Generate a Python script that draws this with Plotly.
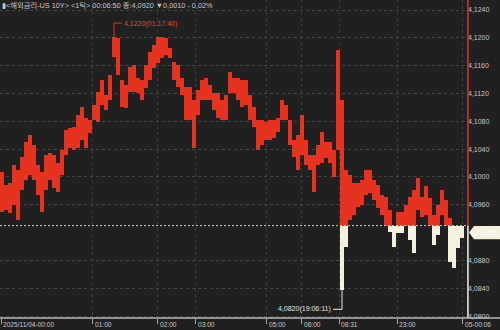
import numpy as np
import plotly.graph_objects as go

# ---- data ----
hi = [4.1007, 4.0988, 4.0991, 4.1017, 4.1010, 4.1029, 4.1050, 4.1060, 4.1046, 4.1017,
      4.1007, 4.1032, 4.1034, 4.1032, 4.1020, 4.1039, 4.1067, 4.1070, 4.1072, 4.1089,
      4.1101, 4.1085, 4.1082, 4.1103, 4.1122, 4.1139, 4.1118, 4.1147, 4.1201, 4.1200,
      4.1139, 4.1132, 4.1158, 4.1161, 4.1142, 4.1139, 4.1161, 4.1180, 4.1190, 4.1201,
      4.1201, 4.1200, 4.1185, 4.1165, 4.1161, 4.1142, 4.1129, 4.1129, 4.1111, 4.1125,
      4.1139, 4.1142, 4.1132, 4.1121, 4.1121, 4.1111, 4.1118, 4.1151, 4.1142, 4.1142,
      4.1139, 4.1139, 4.1118, 4.1101, 4.1082, 4.1082, 4.1079, 4.1082, 4.1082, 4.1085,
      4.1111, 4.1103, 4.1082, 4.1053, 4.1060, 4.1089, 4.1053, 4.1032, 4.1032, 4.1046,
      4.1065, 4.1050, 4.1050, 4.1039, 4.1183, 4.1111, 4.1010, 4.1003, 4.0991, 4.0991,
      4.0996, 4.1010, 4.1010, 4.0996, 4.0988, 4.0974, 4.0971, 4.0952, 4.0930, 4.0950,
      4.0950, 4.0960, 4.0971, 4.0981, 4.0998, 4.0971, 4.0987, 4.0970, 4.0945, 4.0960,
      4.0981, 4.0967, 4.0941, 4.0930, 4.0930, 4.0930]
lo = [4.0950, 4.0952, 4.0948, 4.0960, 4.0938, 4.0981, 4.0996, 4.1003, 4.0996, 4.0974,
      4.0950, 4.0981, 4.0996, 4.0984, 4.0978, 4.1003, 4.1032, 4.1042, 4.1039, 4.1042,
      4.1053, 4.1042, 4.1063, 4.1082, 4.1079, 4.1103, 4.1096, 4.1111, 4.1172, 4.1147,
      4.1101, 4.1099, 4.1122, 4.1122, 4.1121, 4.1111, 4.1128, 4.1139, 4.1157, 4.1164,
      4.1171, 4.1175, 4.1171, 4.1139, 4.1129, 4.1118, 4.1082, 4.1082, 4.1042, 4.1089,
      4.1111, 4.1111, 4.1111, 4.1096, 4.1085, 4.1082, 4.1082, 4.1121, 4.1121, 4.1111,
      4.1101, 4.1103, 4.1082, 4.1072, 4.1039, 4.1046, 4.1053, 4.1053, 4.1056, 4.1065,
      4.1082, 4.1082, 4.1046, 4.1029, 4.1010, 4.1032, 4.1017, 4.1010, 4.0978, 4.1017,
      4.1020, 4.1027, 4.1020, 4.1000, 4.1039, 4.0837, 4.0899, 4.0938, 4.0945, 4.0957,
      4.0960, 4.0974, 4.0977, 4.0967, 4.0955, 4.0945, 4.0930, 4.0921, 4.0899, 4.0919,
      4.0919, 4.0930, 4.0909, 4.0891, 4.0952, 4.0942, 4.0945, 4.0930, 4.0902, 4.0916,
      4.0945, 4.0930, 4.0878, 4.0869, 4.0898, 4.0912]
prev_close = 4.0930
last_price = 4.0920

y_ticks = [4.0800, 4.0840, 4.0880, 4.0960, 4.1000, 4.1040, 4.1080, 4.1120, 4.1160, 4.1200, 4.1240]
y_tick_text = ["4,0800", "4,0840", "4,0880", "4,0960", "4,1000", "4,1040", "4,1080",
               "4,1120", "4,1160", "4,1200", "4,1240"]
x_tick_pos = [-0.25, 22.7, 38.9, 48.4, 66.2, 74.9, 84.25, 98.8, 115.2]
x_tick_text = ["2025/11/04-00:00", "01:00", "02:00", "03:00", "05:00", "06:00", "08:31", "23:00", "05-00:06"]

header = "▮<해외금리-US 10Y> <1틱> 00:06:50 종:4,0920 ▼0,0010 - 0,02%"
high_label = "4,1220(01:17:40)"
low_label = "4,0820(19:06:11)"
last_label = "4,0920"

# ---- styling ----
BG = "#202020"
RED = "#e5331f"
CREAM = "#f4f2df"
TXT = "#c8c8c8"
FONT = "Liberation Sans, Noto Sans CJK KR, DejaVu Sans"

hi_a = np.array(hi)
lo_a = np.array(lo)
x = np.arange(len(hi))
B = prev_close

red_base = np.maximum(lo_a, B)
red_h = np.clip(hi_a - red_base, 0, None)
white_top = np.minimum(hi_a, B)
white_h = np.clip(white_top - lo_a, 0, None)

fig = go.Figure()
fig.add_trace(go.Bar(x=x, y=red_h, base=red_base, width=1.0,
                     marker=dict(color=RED, line=dict(width=0)), hoverinfo="skip"))
fig.add_trace(go.Bar(x=x, y=white_h, base=lo_a, width=1.0,
                     marker=dict(color=CREAM, line=dict(width=0)), hoverinfo="skip"))

shapes = []
# baseline (previous close)
shapes.append(dict(type="line", xref="paper", x0=0, x1=1, yref="y", y0=B, y1=B,
                   line=dict(color="#d0d0d0", width=1, dash="2px,2px"), layer="above"))
# right axis line: red above baseline, white below
shapes.append(dict(type="line", xref="paper", x0=1.002, x1=1.002, yref="y", y0=B, y1=4.12544,
                   line=dict(color=RED, width=1.5)))
shapes.append(dict(type="line", xref="paper", x0=1.002, x1=1.002, yref="y", y0=4.07972, y1=B,
                   line=dict(color=CREAM, width=1.5)))
# bottom axis line across full width
shapes.append(dict(type="line", xref="paper", x0=0, x1=500 / 467, yref="paper", y0=0, y1=0,
                   line=dict(color="#b8b8b8", width=1.5)))
# last price tag
half = 0.00095
shapes.append(dict(type="path", xref="paper", yref="y",
                   path=(f"M {469/467} {last_price} L {474/467} {last_price + half} "
                         f"L {500/467} {last_price + half} L {500/467} {last_price - half} "
                         f"L {474/467} {last_price - half} Z"),
                   fillcolor=CREAM, line=dict(width=0)))

# high / low markers
ih = int(np.argmax(hi_a))
il = int(np.argmin(lo_a))
shapes.append(dict(type="line", xref="x", yref="y", xsizemode="pixel", ysizemode="pixel",
                   xanchor=ih, yanchor=hi_a[ih], x0=0, x1=0, y0=0, y1=14,
                   line=dict(color=RED, width=1)))
shapes.append(dict(type="line", xref="x", yref="y", xsizemode="pixel", ysizemode="pixel",
                   xanchor=ih, yanchor=hi_a[ih], x0=0, x1=8, y0=14, y1=14,
                   line=dict(color=RED, width=1)))
shapes.append(dict(type="line", xref="x", yref="y", xsizemode="pixel", ysizemode="pixel",
                   xanchor=il, yanchor=lo_a[il], x0=0, x1=0, y0=0, y1=-19,
                   line=dict(color="#e8e8e8", width=1)))
shapes.append(dict(type="line", xref="x", yref="y", xsizemode="pixel", ysizemode="pixel",
                   xanchor=il, yanchor=lo_a[il], x0=0, x1=-9, y0=-19, y1=-19,
                   line=dict(color="#e8e8e8", width=1)))

annotations = []
annotations.append(dict(text=header, xref="paper", yref="paper", x=0, y=1,
                        xanchor="left", yanchor="top", yshift=1, xshift=0, showarrow=False,
                        font=dict(size=7.3, color=TXT, family=FONT)))
for p, t in zip(x_tick_pos, x_tick_text):
    annotations.append(dict(text=t, xref="x", yref="paper", x=p, y=0, xanchor="left",
                            yanchor="middle", yshift=-6, xshift=0, showarrow=False,
                            font=dict(size=6.6, color=TXT, family=FONT)))
annotations.append(dict(text=high_label, xref="x", yref="y", x=ih, y=hi_a[ih],
                        xanchor="left", yanchor="middle", xshift=8, yshift=13, showarrow=False,
                        font=dict(size=7, color="#d9503e", family=FONT)))
annotations.append(dict(text=low_label, xref="x", yref="y", x=il, y=lo_a[il],
                        xanchor="right", yanchor="middle", xshift=-9, yshift=-19, showarrow=False,
                        font=dict(size=7, color="#e0e0e0", family=FONT)))
annotations.append(dict(text=last_label, xref="paper", yref="y", x=487 / 467, y=last_price,
                        xanchor="center", yanchor="middle", showarrow=False,
                        font=dict(size=7, color="#ffffff", family=FONT)))

fig.update_layout(
    width=500, height=330,
    margin=dict(l=0, r=33, t=0, b=12, pad=0),
    paper_bgcolor=BG, plot_bgcolor=BG,
    barmode="overlay", bargap=0, showlegend=False,
    font=dict(family=FONT, size=7, color=TXT),
    shapes=shapes, annotations=annotations,
    xaxis=dict(range=[-0.5, 116.25], tickvals=x_tick_pos, showticklabels=False,
               ticks="outside", ticklen=5, tickcolor="#a8a8a8", tickwidth=1,
               showgrid=True, gridcolor="#3c3c3c", griddash="dot", gridwidth=1,
               zeroline=False, showline=False, fixedrange=True),
    yaxis=dict(range=[4.07972, 4.12544], side="right", tickvals=y_ticks, ticktext=y_tick_text,
               tickfont=dict(size=7, color=TXT, family=FONT), ticks="",
               showgrid=True, gridcolor="#444444", griddash="dot", gridwidth=1,
               zeroline=False, showline=False, fixedrange=True),
)

fig.write_html("out.html", config={"displayModeBar": False})
